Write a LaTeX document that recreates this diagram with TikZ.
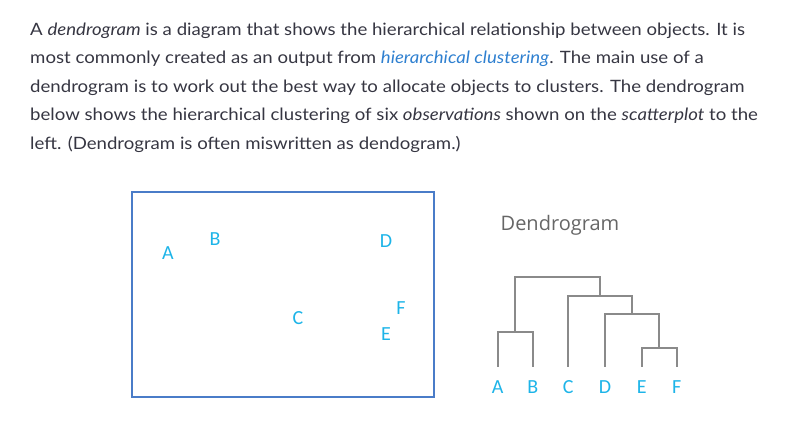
\documentclass[tikz,border=0pt]{standalone}
\usepackage{fontspec}
\setmainfont{Lato}[FakeStretch=1.095]
\newfontfamily\letterfont{Carlito}
\newfontfamily\titlefont{Open Sans}
\definecolor{bodytext}{HTML}{363642}
\definecolor{linkblue}{HTML}{2F80D0}
\definecolor{boxblue}{HTML}{4A7CC8}
\definecolor{lettercyan}{HTML}{1DB4E8}
\definecolor{treegrey}{HTML}{8A8A8A}
\definecolor{titlegrey}{HTML}{666666}
\begin{document}
\begin{tikzpicture}[x=1pt,y=-1pt,
  bodyline/.style={anchor=base west,inner sep=0pt,text=bodytext,font=\fontsize{17}{20}\selectfont},
  letter/.style={inner sep=0pt,text=lettercyan,font=\letterfont\fontsize{20}{24}\selectfont},
  leaflabel/.style={inner sep=0pt,text=lettercyan,font=\letterfont\fontsize{20}{24}\selectfont},
  branch/.style={draw=treegrey,line width=2pt},
  plotbox/.style={draw=boxblue,line width=2pt}]
\useasboundingbox (0,0) rectangle (800,421);
% paragraph
\node[bodyline] (l1) at (30,35) {A \textit{dendrogram} is a diagram that shows the hierarchical relationship between objects. It is};
\node[bodyline] (l2) at (30,63.5) {most commonly created as an output from \textcolor{linkblue}{\textit{hierarchical clustering}}. The main use of a};
\node[bodyline] (l3) at (30,92) {dendrogram is to work out the best way to allocate objects to clusters. The dendrogram};
\node[bodyline] (l4) at (30,120.5) {below shows the hierarchical clustering of six \textit{observations} shown on the \textit{scatterplot} to the};
\node[bodyline] (l5) at (30,149) {left. (Dendrogram is often miswritten as dendogram.)};
% scatter plot
\draw[plotbox] (132,192) rectangle (434,397);
\node[letter] (pa) at (168,253) {A};
\node[letter] (pb) at (215,239) {B};
\node[letter] (pc) at (298,318) {C};
\node[letter] (pd) at (386,241) {D};
\node[letter] (pe) at (386,334) {E};
\node[letter] (pf) at (401,308) {F};
% dendrogram
\node[inner sep=0pt,text=titlegrey,font=\titlefont\fontsize{20}{24}\selectfont] (title) at (560,225) {Dendrogram};
\node[leaflabel] (la) at (497.7,387) {A};
\node[leaflabel] (lb) at (532.7,387) {B};
\node[leaflabel] (lc) at (568.3,387) {C};
\node[leaflabel] (ld) at (605,387) {D};
\node[leaflabel] (le) at (641.7,387) {E};
\node[leaflabel] (lf) at (676.7,387) {F};
\coordinate (ta) at (497.7,366.7);
\coordinate (tb) at (532.7,366.7);
\coordinate (tc) at (568.3,366.7);
\coordinate (td) at (605,366.7);
\coordinate (te) at (641.7,366.7);
\coordinate (tf) at (676.7,366.7);
\coordinate (jab) at (515.2,331.7);
\coordinate (jef) at (659.2,348.3);
\coordinate (jdef) at (632.1,314.3);
\coordinate (jcdef) at (600.2,296);
\coordinate (jall) at (557.7,276.7);
\draw[branch] (ta) |- (jab) -| (tb);
\draw[branch] (te) |- (jef) -| (tf);
\draw[branch] (td) |- (jdef) -| (jef);
\draw[branch] (tc) |- (jcdef) -| (jdef);
\draw[branch] (jab) |- (jall) -| (jcdef);
\end{tikzpicture}
\end{document}
